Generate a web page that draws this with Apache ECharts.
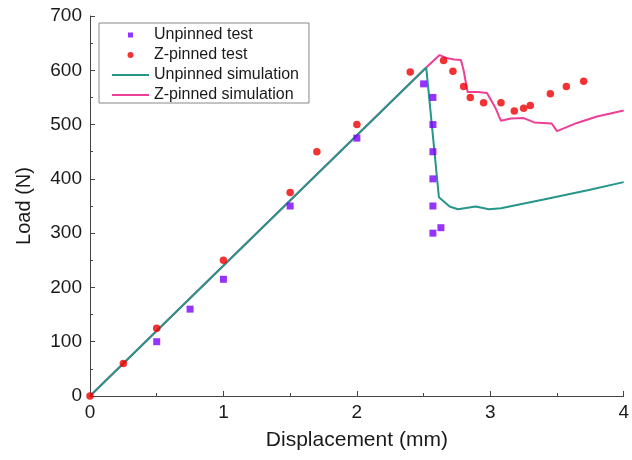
<!DOCTYPE html>
<html>
<head>
<meta charset="utf-8">
<script src="https://cdn.jsdelivr.net/npm/echarts@6/dist/echarts.min.js"></script>
<style>
  html, body { margin: 0; padding: 0; background: #fff; }
  #chart { width: 632px; height: 460px; }
</style>
</head>
<body>
<div id="chart"></div>
<script>
// Load–displacement data: [displacement (mm), load (N)]
const unpinnedTest = [[0.5,100],[0.75,160],[1.0,215],[1.5,350],[2.0,475],[2.5,575],[2.57,550],[2.57,500],[2.57,450],[2.57,400],[2.57,350],[2.57,300],[2.63,310]];
const zpinnedTest = [[0,0],[0.25,60],[0.5,125],[1.0,250],[1.5,375],[1.7,450],[2.0,500],[2.4,597],[2.65,618],[2.72,598],[2.8,570],[2.85,550],[2.95,540],[3.08,540],[3.18,525],[3.25,530],[3.3,535],[3.45,557],[3.57,570],[3.7,580]];
const unpinnedSim = [[0,0],[2.52,605],[2.615,366],[2.695,349],[2.757,344],[2.89,349],[2.99,344],[3.08,346],[3.4,362],[3.73,379],[4.0,394]];
const zpinnedSim = [[0,0],[2.52,605],[2.62,628],[2.68,622],[2.73,620],[2.78,619],[2.8,600],[2.83,560],[2.91,560],[2.975,558],[3.04,530],[3.08,507],[3.155,511],[3.25,512],[3.33,504],[3.46,502],[3.5,488],[3.65,503],[3.8,515],[4.0,526]];
const seriesNames = ['Unpinned test', 'Z-pinned test', 'Unpinned simulation', 'Z-pinned simulation'];
const xLabel = 'Displacement (mm)';
const yLabel = 'Load (N)';

const FONT = '"Liberation Sans", Arial, sans-serif';
const AXIS_COLOR = '#444';

// Legend icons drawn inside a fixed box so they keep their small size
const squareIcon = 'path://M0,0M14,14M4.5,4.5h5v5h-5z';
const circleIcon = 'path://M0,0M14,14M10,7a3,3 0 1,1 -6,0a3,3 0 1,1 6,0z';
const lineIcon = 'path://M0,0M37,14M0,6h37v2h-37z';

const chart = echarts.init(document.getElementById('chart'), null, { renderer: 'canvas' });

const axisCommon = {
  axisLine: { show: true, lineStyle: { color: AXIS_COLOR, width: 1 } },
  axisTick: { show: true, inside: true, length: 5, lineStyle: { color: AXIS_COLOR } },
  minorTick: { show: true, splitNumber: 2, length: 3, lineStyle: { color: AXIS_COLOR } },
  splitLine: { show: false },
  nameLocation: 'middle'
};

chart.setOption({
  animation: false,
  backgroundColor: '#fff',
  grid: { left: 90, right: 5, top: 16, bottom: 64 },
  legend: {
    data: [
      { name: seriesNames[0], icon: squareIcon },
      { name: seriesNames[1], icon: circleIcon },
      { name: seriesNames[2], icon: lineIcon },
      { name: seriesNames[3], icon: lineIcon }
    ],
    orient: 'vertical',
    left: 99,
    top: 23,
    itemWidth: 37,
    itemHeight: 14,
    itemGap: 4,
    itemTextGap: 5,
    padding: [4, 10, 0, 13],
    borderColor: '#888',
    borderWidth: 1,
    textStyle: { fontFamily: FONT, fontSize: 16, color: '#1a1a1a' }
  },
  xAxis: Object.assign({}, axisCommon, {
    type: 'value',
    min: 0, max: 4, interval: 1,
    name: xLabel,
    nameGap: 34,
    nameTextStyle: { fontFamily: FONT, fontSize: 21, color: '#1a1a1a' },
    axisLabel: { fontFamily: FONT, fontSize: 19, color: '#1a1a1a', margin: 7 }
  }),
  yAxis: Object.assign({}, axisCommon, {
    type: 'value',
    min: 0, max: 700, interval: 100,
    name: yLabel,
    nameGap: 56,
    nameTextStyle: { fontFamily: FONT, fontSize: 20, color: '#1a1a1a' },
    axisLabel: { fontFamily: FONT, fontSize: 19, color: '#1a1a1a', margin: 8 }
  }),
  series: [
    {
      name: seriesNames[0], type: 'scatter', data: unpinnedTest,
      symbol: 'rect', symbolSize: 7, z: 5,
      itemStyle: { color: '#7B00FF' }
    },
    {
      name: seriesNames[1], type: 'scatter', data: zpinnedTest,
      symbol: 'circle', symbolSize: 7.5, z: 5,
      itemStyle: { color: '#F00000' }
    },
    {
      name: seriesNames[2], type: 'line', data: unpinnedSim,
      symbol: 'none', z: 3,
      lineStyle: { color: '#26968A', width: 2 },
      itemStyle: { color: '#26968A' }
    },
    {
      name: seriesNames[3], type: 'line', data: zpinnedSim,
      symbol: 'none', z: 2,
      lineStyle: { color: '#EE3F96', width: 2 },
      itemStyle: { color: '#EE3F96' }
    }
  ]
});
</script>
</body>
</html>
